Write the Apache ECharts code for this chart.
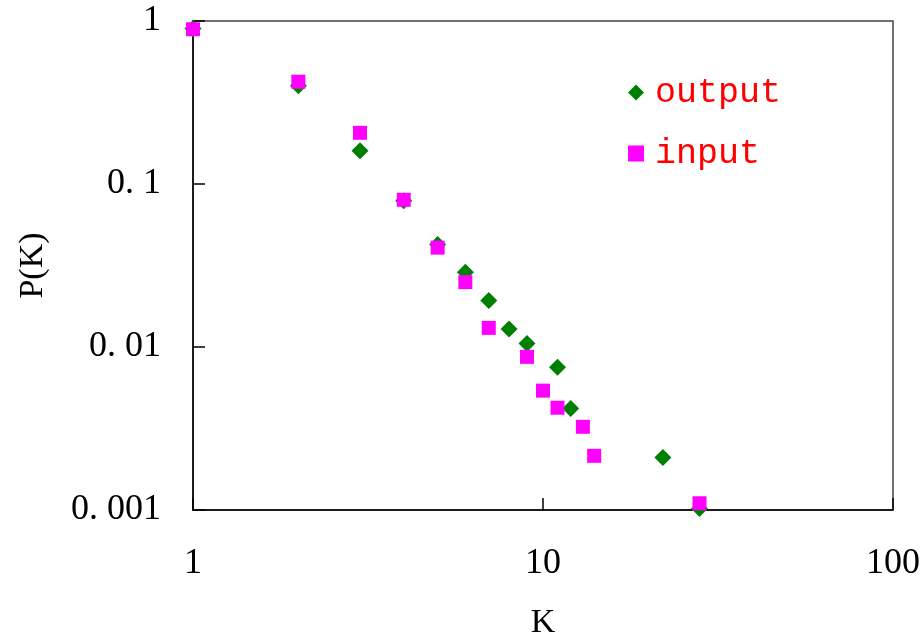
<!DOCTYPE html>
<html>
<head>
<meta charset="utf-8">
<script src="https://cdn.jsdelivr.net/npm/echarts@6/dist/echarts.min.js"></script>
<style>
  html, body { margin: 0; padding: 0; background: #fff; }
  #chart { width: 922px; height: 633px; }
</style>
</head>
<body>
<div id="chart"></div>
<script>
// Degree distribution P(K) on log-log axes
var outputK = [1, 2, 3, 4, 5, 6, 7, 8, 9, 11, 12, 22, 28];
var outputP = [0.90, 0.40, 0.16, 0.079, 0.0425, 0.0287, 0.0193, 0.0129, 0.0105, 0.0075, 0.0042, 0.0021, 0.00102];

var inputK = [1, 2, 3, 4, 5, 6, 7, 9, 10, 11, 13, 14, 28];
var inputP = [0.89, 0.424, 0.206, 0.080, 0.0407, 0.0250, 0.0131, 0.0087, 0.0054, 0.00424, 0.00324, 0.00215, 0.0011];

var xTickValues = [1, 10, 100];
var xTickLabels = ['1', '10', '100'];
var yTickValues = [1, 0.1, 0.01, 0.001];
var yTickLabels = ['1', '0. 1', '0. 01', '0. 001'];

function pairs(xs, ys) {
  return xs.map(function (x, i) { return [x, ys[i]]; });
}
function lookup(values, labels, v) {
  for (var i = 0; i < values.length; i++) {
    if (Math.abs(Math.log10(v) - Math.log10(values[i])) < 1e-6) return labels[i];
  }
  return '';
}

var serif = '"Liberation Serif", "DejaVu Serif", serif';
var chart = echarts.init(document.getElementById('chart'), null, { renderer: 'canvas' });

chart.setOption({
  animation: false,
  backgroundColor: '#ffffff',
  grid: {
    left: 193, right: 29, top: 21, bottom: 123,
    outerBoundsMode: 'none', containLabel: false,
    show: true, borderColor: '#444', borderWidth: 1.5, backgroundColor: 'transparent'
  },
  legend: {
    orient: 'vertical',
    left: 623, top: 70,
    itemWidth: 16, itemHeight: 16, itemGap: 26,
    textStyle: {
      color: '#ff0000', fontFamily: '"Liberation Mono", "DejaVu Sans Mono", monospace',
      fontSize: 35, padding: [0, 0, 0, 6]
    },
    data: ['output', 'input']
  },
  xAxis: {
    type: 'log', logBase: 10, min: 1, max: 100,
    name: 'K', nameLocation: 'middle', nameGap: 96,
    nameTextStyle: { color: '#000', fontFamily: serif, fontSize: 34 },
    axisLine: { lineStyle: { color: '#000', width: 1.5 } },
    axisTick: { inside: true, length: 12, lineStyle: { color: '#000', width: 1.5 } },
    minorTick: { show: false },
    splitLine: { show: false },
    axisLabel: {
      color: '#000', fontFamily: serif, fontSize: 36, margin: 36,
      formatter: function (v) { return lookup(xTickValues, xTickLabels, v); }
    }
  },
  yAxis: {
    type: 'log', logBase: 10, min: 0.001, max: 1,
    name: 'P(K)', nameLocation: 'middle', nameGap: 143, nameRotate: 90,
    nameTextStyle: { color: '#000', fontFamily: serif, fontSize: 34 },
    axisLine: { lineStyle: { color: '#000', width: 1.5 } },
    axisTick: { inside: true, length: 12, lineStyle: { color: '#000', width: 1.5 } },
    minorTick: { show: false },
    splitLine: { show: false },
    axisLabel: {
      color: '#000', fontFamily: serif, fontSize: 36, margin: 32,
      formatter: function (v) { return lookup(yTickValues, yTickLabels, v); }
    }
  },
  series: [
    {
      name: 'output', type: 'scatter', symbol: 'diamond', symbolSize: 17,
      itemStyle: { color: '#008000', opacity: 1 },
      data: pairs(outputK, outputP), z: 2
    },
    {
      name: 'input', type: 'scatter', symbol: 'rect', symbolSize: 14,
      itemStyle: { color: '#ff00ff', opacity: 1 },
      data: pairs(inputK, inputP), z: 3
    }
  ]
});
</script>
</body>
</html>
